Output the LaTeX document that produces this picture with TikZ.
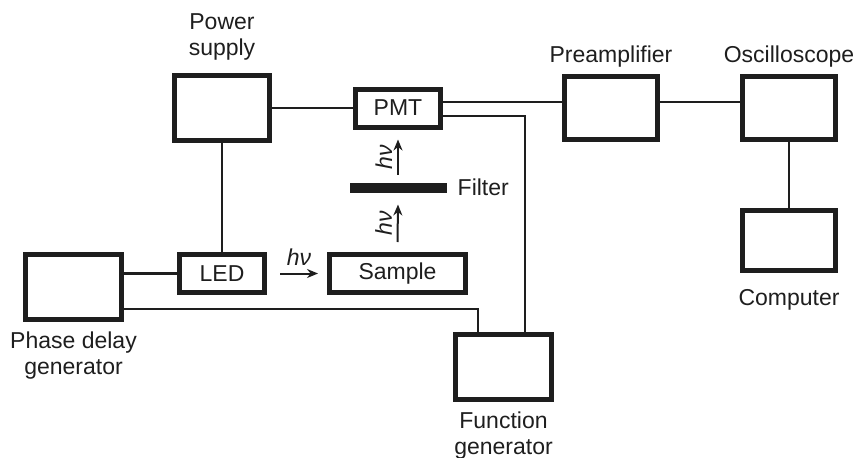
\documentclass[tikz,border=0pt]{standalone}
\usepackage{fontspec}
\setmainfont{Liberation Sans}
\usetikzlibrary{positioning,arrows.meta}
\definecolor{ink}{RGB}{30,30,30}

\begin{document}
\begin{tikzpicture}[
    node distance=1cm,
    every node/.style={font=\fontsize{23}{26}\selectfont, text=ink},
    unit/.style={rectangle, draw=ink, line width=5pt, inner sep=0pt, minimum width=95pt, minimum height=65pt},
    small/.style={unit, minimum width=85pt, minimum height=38pt},
    caption/.style={align=center, inner sep=0pt},
    wire/.style={draw=ink, line width=2.4pt},
    photon/.style={-{Stealth[length=11pt, width=9pt]}, draw=ink, line width=2pt},
    hv/.style={inner sep=0pt, font=\fontsize{23}{26}\selectfont\itshape}
]
\useasboundingbox (0,0) rectangle (860pt,-458pt);

% Detection chain (top row)
\node[unit] (supply) at (222pt,-108pt) {};
\node[small, right=81pt of supply] (pmt) {PMT};
\node[unit, minimum width=93pt, minimum height=63pt, right=119pt of pmt] (preamp) {};
\node[unit, minimum width=93pt, minimum height=63pt, right=80pt of preamp] (scope) {};
\node[unit, minimum width=93pt, minimum height=60pt, below=66pt of scope] (computer) {};
\node[fill=ink, minimum width=97pt, minimum height=10pt, inner sep=0pt, outer sep=0pt, below=53pt of pmt] (filter) {};

% Excitation side
\node[small, below=109pt of supply] (led) {LED};
\node[small, minimum width=136pt, right=60pt of led] (sample) {Sample};
\node[unit, minimum width=96pt, below left=0pt and 53pt of led.north west] (delay) {};
\node[unit, minimum width=96pt, below=37pt of sample.south, xshift=106pt] (funcgen) {};

% Captions
\node[caption, above=13pt of supply] (supplylbl) {Power\\supply};
\node[caption, above=7pt of preamp] (preamplbl) {Preamplifier};
\node[caption, above=7pt of scope] (scopelbl) {Oscilloscope};
\node[caption, below=16pt of computer] (computerlbl) {Computer};
\node[caption, below=10pt of delay] (delaylbl) {Phase delay\\generator};
\node[caption, below=10pt of funcgen] (funcgenlbl) {Function\\generator};
\node[caption, right=11pt of filter] (filterlbl) {Filter};

% Wiring
\draw[wire] (supply) -- (pmt);
\draw[wire] ([yshift=6pt]pmt.east) -- ([yshift=6pt]preamp.west);
\draw[wire] ([yshift=6pt]preamp.east) -- ([yshift=6pt]scope.west);
\draw[wire] (scope) -- (computer);
\draw[wire] ([yshift=-8pt]pmt.east) -| ([xshift=21.5pt]funcgen.north);
\draw[wire] (supply) -- (led);
\draw[wire] (led.west) -- (led.west -| delay.east);
\draw[wire] ([yshift=-22pt]delay.east) -| ([xshift=-25.5pt]funcgen.north);

% Light path
\draw[photon] ([xshift=13pt]led.east) -- node[hv, above=7pt] (hvled) {hν} ([xshift=-9pt]sample.west);
\draw[photon] ([yshift=10pt]sample.north) -- node[hv, rotate=90, anchor=south, inner sep=5pt] (hvsample) {hν} ([yshift=-12pt]filter.south);
\draw[photon] ([yshift=8pt]filter.north) -- node[hv, rotate=90, anchor=south, inner sep=5pt] (hvfilter) {hν} ([yshift=-10pt]pmt.south);
\end{tikzpicture}
\end{document}
